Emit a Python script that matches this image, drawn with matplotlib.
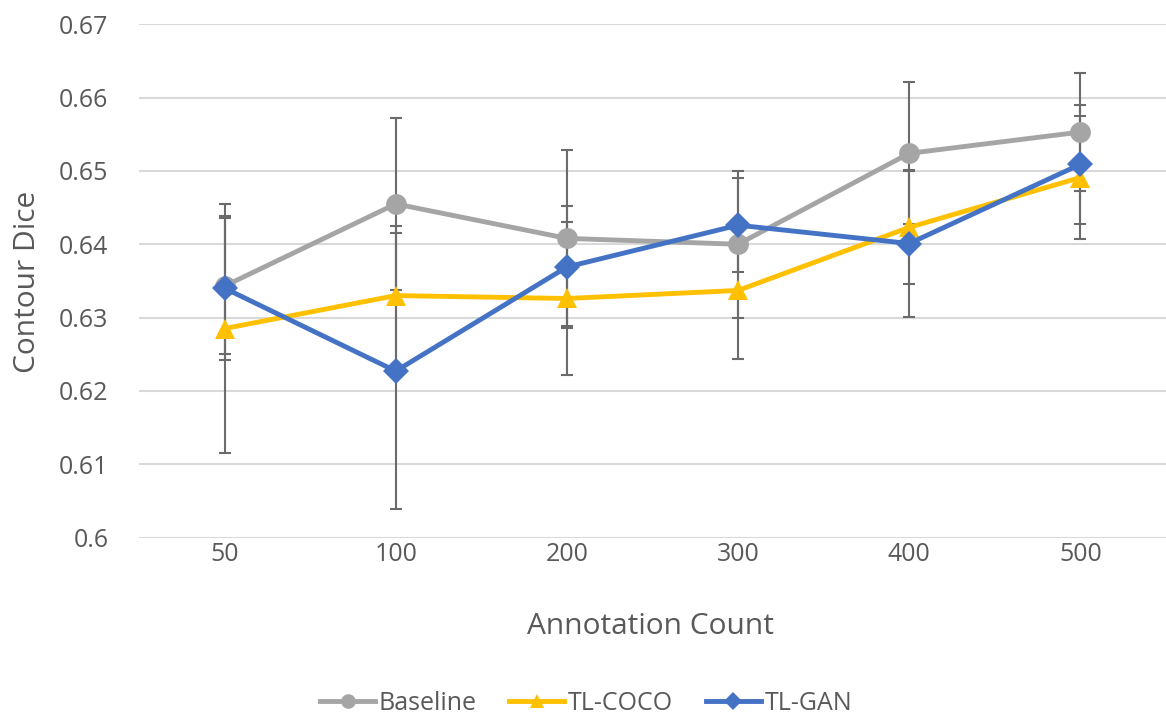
import matplotlib.pyplot as plt

plt.rcParams['font.family'] = ['Open Sans', 'DejaVu Sans']

counts = ['50', '100', '200', '300', '400', '500']

baseline = [0.6343, 0.6455, 0.6408, 0.6400, 0.6524, 0.6553]
baseline_err = [0.0093, 0.0117, 0.0120, 0.0100, 0.0097, 0.0080]

tl_coco = [0.6285, 0.6330, 0.6326, 0.6337, 0.6423, 0.6491]
tl_coco_err = [0.0170, 0.0095, 0.0105, 0.0093, 0.0077, 0.0084]

tl_gan = [0.6340, 0.6227, 0.6369, 0.6426, 0.6401, 0.6509]
tl_gan_err = [0.0098, 0.0188, 0.0083, 0.0064, 0.0100, 0.0081]

fig = plt.figure(figsize=(11.66, 7.18), dpi=100)
ax = fig.add_axes([139 / 1166, 1 - 537.5 / 718, 1 - 139 / 1166, (537.5 - 24.3) / 718])

x = range(len(counts))
series = [
    ('Baseline', baseline, baseline_err, '#A5A5A5', 'o', 15),
    ('TL-COCO', tl_coco, tl_coco_err, '#FFC000', '^', 15),
    ('TL-GAN', tl_gan, tl_gan_err, '#4472C4', 'D', 13),
]

# error bars first so the lines sit on top
for name, vals, err, col, mk, ms in series:
    ax.errorbar(x, vals, yerr=err, fmt='none', ecolor='#6b6b6b',
                elinewidth=1.5, capsize=4.5, capthick=1.5, zorder=2)

for name, vals, err, col, mk, ms in series:
    ax.plot(x, vals, color=col, lw=3.5, marker=mk, markersize=ms,
            markeredgewidth=0, label=name, zorder=3)

ax.set_xlim(-0.5, 5.5)
ax.set_ylim(0.6, 0.67)
ax.set_xticks(list(x))
ax.set_xticklabels(counts)
ax.set_yticks([0.6, 0.61, 0.62, 0.63, 0.64, 0.65, 0.66, 0.67])
ax.set_yticklabels(['0.6', '0.61', '0.62', '0.63', '0.64', '0.65', '0.66', '0.67'])
ax.tick_params(axis='both', length=0, labelsize=18, labelcolor='#595959')
ax.tick_params(axis='x', pad=3)
ax.tick_params(axis='y', pad=22)

ax.grid(axis='y', color='#d9d9d9', lw=1.5)
ax.set_axisbelow(True)
for s in ax.spines.values():
    s.set_visible(False)

ax.set_xlabel('Annotation Count', fontsize=21.5, color='#595959')
ax.set_ylabel('Contour Dice', fontsize=21.5, color='#595959')
ax.xaxis.set_label_coords(0.4976, -0.146)
ax.yaxis.set_label_coords(-0.094, 0.498)

ax.legend(loc='center', bbox_to_anchor=(586 / 1166, 1 - 703 / 718),
          bbox_transform=fig.transFigure, ncol=3, frameon=False,
          fontsize=18, labelcolor='#595959', handlelength=2.2,
          handletextpad=0.15, columnspacing=1.3, markerscale=0.7)

fig.savefig('out.png', dpi=100)
